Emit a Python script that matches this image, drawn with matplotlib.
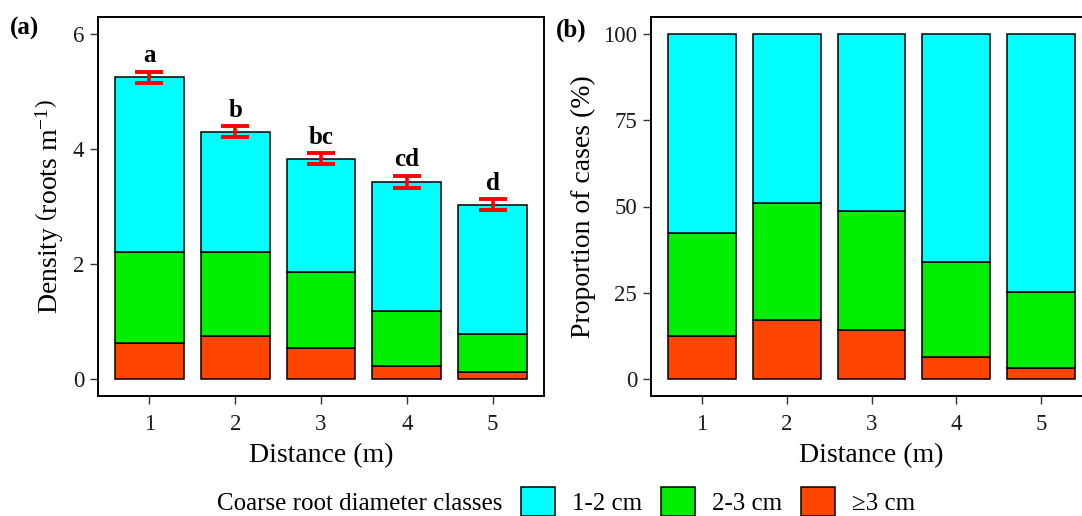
import matplotlib
matplotlib.use("Agg")
import matplotlib.pyplot as plt
from matplotlib.patches import Patch
import numpy as np

# ---------------- data ----------------
distance = [1, 2, 3, 4, 5]
classes = ["1-2 cm", "2-3 cm", "\u22653 cm"]
colors = ["#00FFFF", "#00EE00", "#FF4500"]

dens_12 = [3.04, 2.09, 1.97, 2.25, 2.25]
dens_23 = [1.58, 1.46, 1.32, 0.95, 0.66]
dens_ge3 = [0.63, 0.75, 0.54, 0.23, 0.12]
dens_se = [0.095, 0.095, 0.095, 0.105, 0.095]
letters = ["a", "b", "bc", "cd", "d"]

prop_12 = [57.7, 49.0, 51.3, 66.0, 74.8]
prop_23 = [29.8, 33.9, 34.5, 27.6, 22.0]
prop_ge3 = [12.5, 17.1, 14.2, 6.4, 3.2]

# ---------------- style ----------------
plt.rcParams["font.family"] = ["Liberation Serif", "DejaVu Serif"]
plt.rcParams["mathtext.fontset"] = "custom"
plt.rcParams["mathtext.rm"] = "Liberation Serif"
plt.rcParams["mathtext.it"] = "Liberation Serif:italic"
plt.rcParams["mathtext.bf"] = "Liberation Serif:bold"

W, H = 1082, 516
fig = plt.figure(figsize=(W / 100, H / 100), dpi=100)

def fx(px):
    return px / W

def fy(py):
    return 1 - py / H

top, bottom = 17, 396
ax1 = fig.add_axes([fx(98), fy(bottom), fx(544 - 98), (bottom - top) / H])
ax2 = fig.add_axes([fx(651), fy(bottom), fx(441), (bottom - top) / H])

bw = 0.8
x = np.array(distance)

def stack(ax, layers):
    base = np.zeros(len(x))
    for vals, col in zip(layers[::-1], colors[::-1]):
        ax.bar(x, vals, bw, bottom=base, color=col, edgecolor="black",
               linewidth=1.1, zorder=2)
        base = base + np.array(vals)
    return base

tot = stack(ax1, [dens_12, dens_23, dens_ge3])
ax1.errorbar(x, tot, yerr=dens_se, fmt="none", ecolor="#FF0000",
             elinewidth=2.6, capsize=10, capthick=2.8, zorder=3)
for xi, t, s, lab in zip(x, tot, dens_se, letters):
    ax1.text(xi, t + s + 0.17, lab, ha="center", va="baseline",
             fontsize=18, fontweight="bold")

stack(ax2, [prop_12, prop_23, prop_ge3])

ax1.set_ylim(-0.3, 6.3)
ax1.set_yticks([0, 2, 4, 6])
ax2.set_ylim(-5, 105)
ax2.set_yticks([0, 25, 50, 75, 100])

for ax in (ax1, ax2):
    ax.set_xlim(0.4, 5.6)
    ax.set_xticks(x)
    ax.set_xticklabels([str(d) for d in distance])
    for sp in ax.spines.values():
        sp.set_linewidth(1.4)
        sp.set_color("black")
    ax.tick_params(axis="both", length=6, width=1.0, color="#333333",
                   labelsize=16.5, labelcolor="#1a1a1a", pad=4)
    ax.tick_params(axis="x", pad=7)
    ax.set_xlabel("Distance (m)", fontsize=20, labelpad=6)

ax1.set_ylabel(r"Density $\left(\mathrm{roots\ m^{-1}}\right)$", fontsize=20, labelpad=5)
ax2.set_ylabel("Proportion of cases (%)", fontsize=20, labelpad=5)

fig.text(fx(10), fy(28), "(a)", fontsize=18, fontweight="bold", va="center", ha="left")
fig.text(fx(556), fy(30), "(b)", fontsize=18, fontweight="bold", va="center", ha="left")

# ---------------- legend ----------------
handles = [Patch(facecolor="none", edgecolor="none")] + [
    Patch(facecolor=c, edgecolor="black", linewidth=1.1) for c in colors]
labels = ["Coarse root diameter classes"] + classes
fig.legend(handles, labels, ncol=4, loc="upper left",
           bbox_to_anchor=(fx(166), fy(487)), frameon=False, fontsize=18,
           handlelength=1.36, handleheight=1.4, handletextpad=0.68,
           columnspacing=0.75, borderpad=0, borderaxespad=0)

fig.savefig("out.png", dpi=100)
